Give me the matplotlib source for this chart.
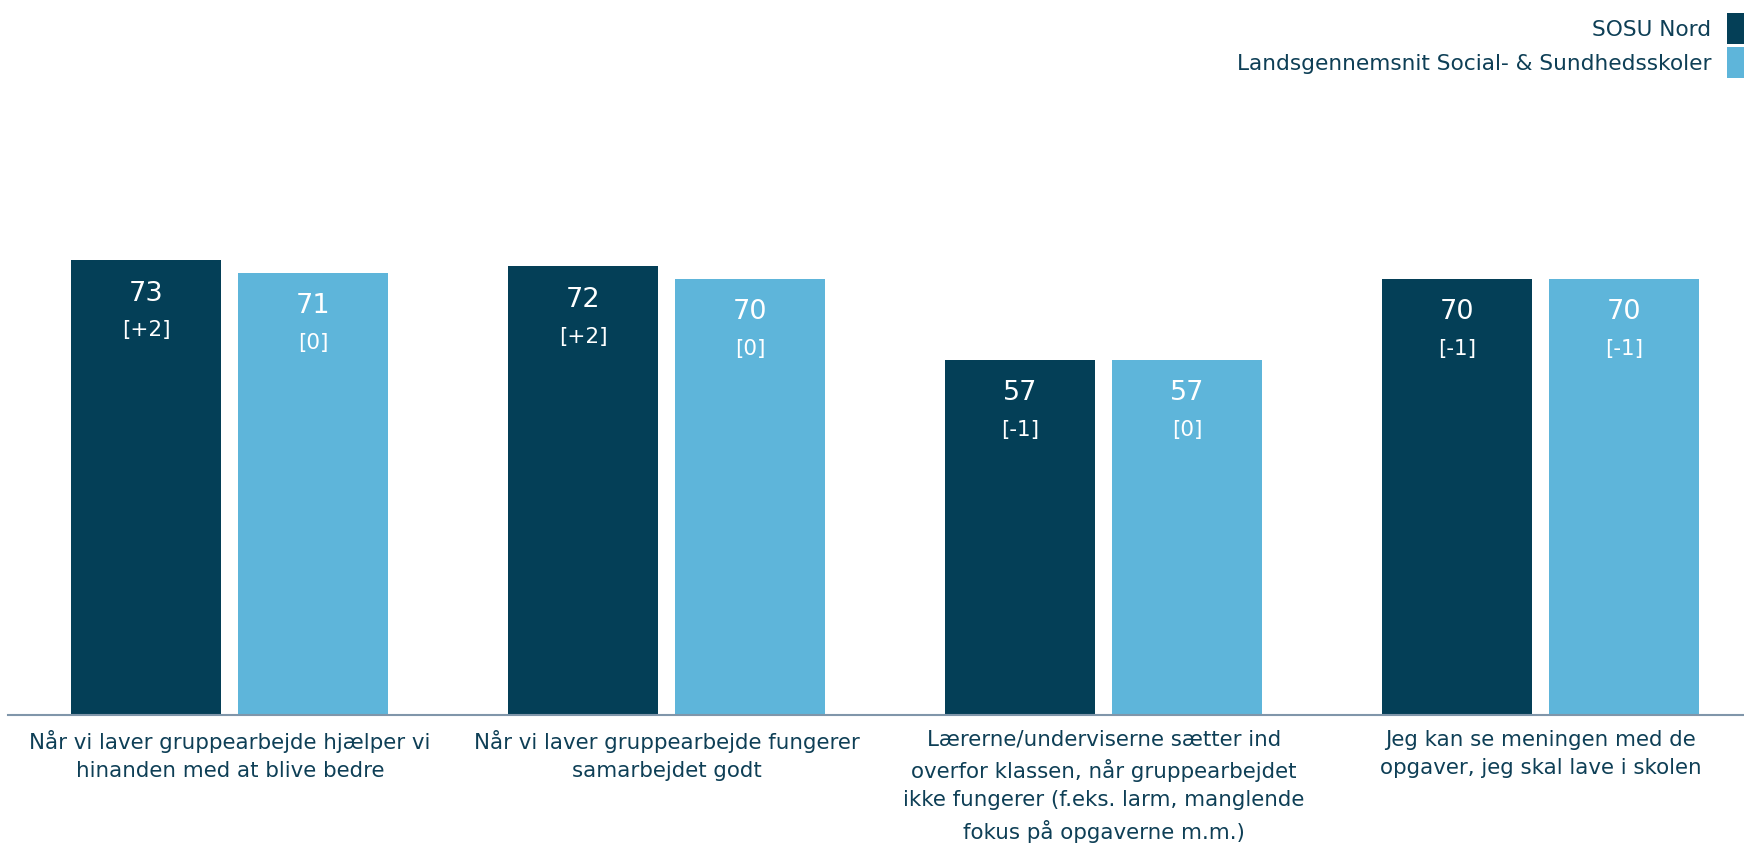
import matplotlib
matplotlib.use("Agg")
import matplotlib.pyplot as plt
import numpy as np

categories = [
    "Når vi laver gruppearbejde hjælper vi\nhinanden med at blive bedre",
    "Når vi laver gruppearbejde fungerer\nsamarbejdet godt",
    "Lærerne/underviserne sætter ind\noverfor klassen, når gruppearbejdet\nikke fungerer (f.eks. larm, manglende\nfokus på opgaverne m.m.)",
    "Jeg kan se meningen med de\nopgaver, jeg skal lave i skolen",
]
series_names = ["SOSU Nord", "Landsgennemsnit Social- & Sundhedsskoler"]
sosu_values = [73, 72, 57, 70]
sosu_changes = ["[+2]", "[+2]", "[-1]", "[-1]"]
lands_values = [71, 70, 57, 70]
lands_changes = ["[0]", "[0]", "[0]", "[-1]"]

dark = "#043F57"
light = "#5EB5DA"
textcol = "#0E3F56"

plt.rcParams['font.family'] = ['DejaVu Sans']

fig = plt.figure(figsize=(17.44, 8.51), dpi=100)
ax = fig.add_axes([8 / 1744, 1 - 715 / 851, 1 - 8 / 1744, (715 - 92) / 851])

x = np.arange(len(categories))
w = 150 / 437
gap = 17 / 437
off = (w + gap) / 2
b1 = ax.bar(x - off, sosu_values, width=w, color=dark, label=series_names[0])
b2 = ax.bar(x + off, lands_values, width=w, color=light, label=series_names[1])

for bars, vals, chg in [(b1, sosu_values, sosu_changes), (b2, lands_values, lands_changes)]:
    for rect, v, c in zip(bars, vals, chg):
        cx = rect.get_x() + rect.get_width() / 2
        ax.annotate(f"{v}", (cx, v), xytext=(0, -24), textcoords="offset points",
                    ha="center", va="center", color="white", fontsize=19.5)
        ax.annotate(c, (cx, v), xytext=(0, -50.5), textcoords="offset points",
                    ha="center", va="center", color="white", fontsize=15.5)

ax.set_xlim(-0.508, 3.465)
ax.set_ylim(0, 100)
ax.set_xticks(x)
ax.set_xticklabels(categories, fontsize=15.4, color=textcol, linespacing=1.5, va="top")
ax.tick_params(axis="x", length=0, pad=10.5)
ax.set_yticks([])
for s in ["top", "right", "left"]:
    ax.spines[s].set_visible(False)
ax.spines["bottom"].set_color("#8096AA")
ax.spines["bottom"].set_linewidth(1.5)

leg = fig.legend(handles=[b1, b2], labels=series_names, loc="upper right",
                 bbox_to_anchor=(1.0, 1 - 13 / 851), frameon=False, markerfirst=False,
                 fontsize=15.6, handlelength=0.8, handleheight=1.85, labelspacing=0.12,
                 handletextpad=0.7, borderaxespad=0, borderpad=0)
for t in leg.get_texts():
    t.set_color(textcol)

fig.savefig("out.png", dpi=100)
